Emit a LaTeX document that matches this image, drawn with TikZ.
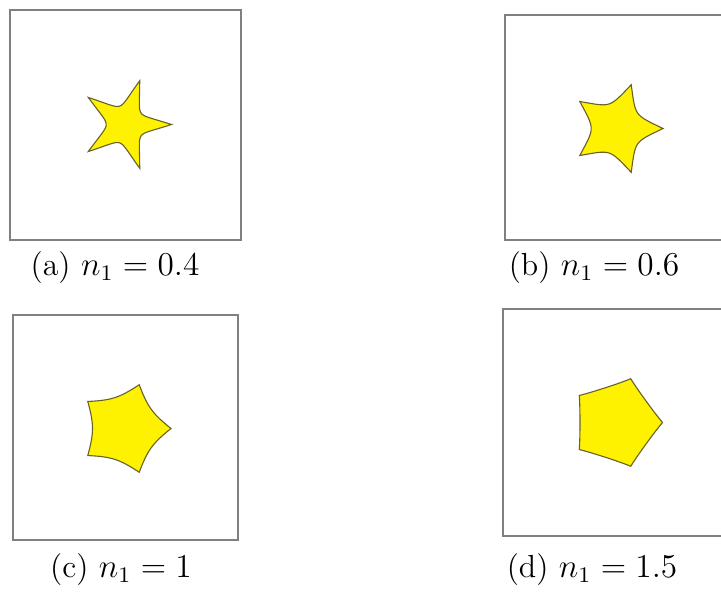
\documentclass[tikz,border=0pt]{standalone}
\definecolor{starline}{RGB}{105,98,40}
\definecolor{framegray}{RGB}{128,128,128}
\begin{document}
\begin{tikzpicture}[x=0.36pt,y=-0.36pt,
  frame/.style={draw=framegray,line width=0.6pt},
  superstar/.style={fill=yellow,draw=starline,line width=0.4pt},
  caption/.style={font=\fontsize{11.5}{13}\selectfont}]
\useasboundingbox (0,0) rectangle (721,595);
\clip (0,0) rectangle (721,595);

% (a) n1 = 0.4
\draw[frame] (10,10) rectangle (241,240);
\draw[superstar,shift={(125.5,124.5)}] plot[domain=0:360,samples=361]
  ({\x}:{46*pow(abs(cos(1.25*\x))+abs(sin(1.25*\x)),-1/0.4)}) -- cycle;
\node[caption] (capa) at (115,268) {(a) $n_1 = 0.4$};

% (b) n1 = 0.6
\draw[frame] (505,15) rectangle (740,240);
\draw[superstar,shift={(617,128.5)}] plot[domain=0:360,samples=361]
  ({\x}:{46*pow(abs(cos(1.25*\x))+abs(sin(1.25*\x)),-1/0.6)}) -- cycle;
\node[caption] (capb) at (594,268) {(b) $n_1 = 0.6$};

% (c) n1 = 1
\draw[frame] (13,315) rectangle (238,540);
\draw[superstar,shift={(125,428.5)}] plot[domain=0:360,samples=361]
  ({\x}:{46*pow(abs(cos(1.25*\x))+abs(sin(1.25*\x)),-1)}) -- cycle;
\node[caption] (capc) at (121,570) {(c) $n_1 = 1$};

% (d) n1 = 1.5
\draw[frame] (503,309) rectangle (740,536);
\draw[superstar,shift={(616.5,422.5)}] plot[domain=0:360,samples=361]
  ({\x}:{46*pow(abs(cos(1.25*\x))+abs(sin(1.25*\x)),-1/1.5)}) -- cycle;
\node[caption] (capd) at (592,570) {(d) $n_1 = 1.5$};
\end{tikzpicture}
\end{document}
